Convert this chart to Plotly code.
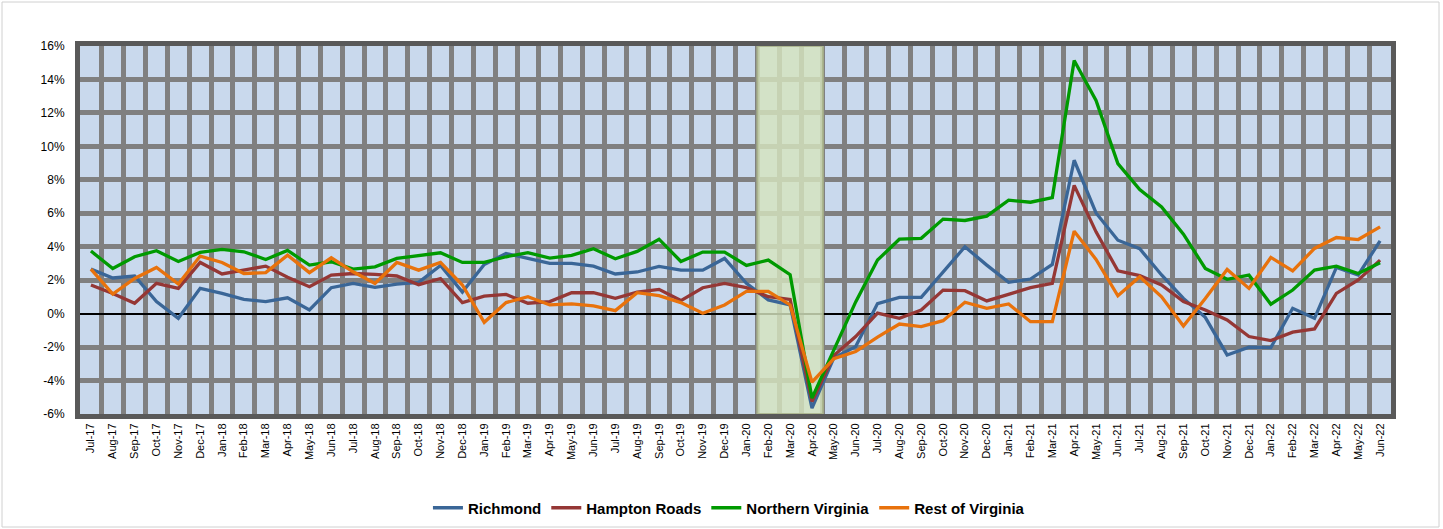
import plotly.graph_objects as go

months = ["Jul-17","Aug-17","Sep-17","Oct-17","Nov-17","Dec-17","Jan-18","Feb-18","Mar-18","Apr-18","May-18","Jun-18",
          "Jul-18","Aug-18","Sep-18","Oct-18","Nov-18","Dec-18","Jan-19","Feb-19","Mar-19","Apr-19","May-19","Jun-19",
          "Jul-19","Aug-19","Sep-19","Oct-19","Nov-19","Dec-19","Jan-20","Feb-20","Mar-20","Apr-20","May-20","Jun-20",
          "Jul-20","Aug-20","Sep-20","Oct-20","Nov-20","Dec-20","Jan-21","Feb-21","Mar-21","Apr-21","May-21","Jun-21",
          "Jul-21","Aug-21","Sep-21","Oct-21","Nov-21","Dec-21","Jan-22","Feb-22","Mar-22","Apr-22","May-22","Jun-22"]

richmond = [2.66,2.13,2.25,0.72,-0.28,1.51,1.21,0.85,0.72,0.95,0.22,1.55,
            1.81,1.57,1.77,1.87,2.88,1.29,2.94,3.6,3.3,3.0,3.0,2.84,
            2.37,2.49,2.82,2.6,2.6,3.3,1.81,0.82,0.52,-5.65,-2.65,-1.97,
            0.6,0.97,0.97,2.5,4.0,2.9,1.87,2.07,2.94,9.17,6.02,4.39,
            3.88,2.31,0.91,-0.22,-2.47,-2.0,-2.03,0.32,-0.28,2.76,2.31,4.35]

hampton_roads = [1.71,1.21,0.62,1.81,1.51,3.06,2.37,2.6,2.84,2.17,1.61,2.3,
                 2.4,2.35,2.25,1.73,2.1,0.66,1.05,1.15,0.62,0.72,1.25,1.25,
                 0.91,1.29,1.45,0.78,1.55,1.81,1.55,1.01,0.85,-5.25,-2.5,-1.37,
                 0.03,-0.28,0.22,1.41,1.37,0.76,1.17,1.55,1.81,7.67,4.89,2.56,
                 2.27,1.71,0.72,0.22,-0.38,-1.37,-1.61,-1.11,-0.91,1.21,2.01,3.2]

northern_virginia = [3.74,2.7,3.4,3.76,3.12,3.66,3.84,3.7,3.24,3.78,2.9,3.1,
                     2.66,2.8,3.3,3.46,3.64,3.06,3.06,3.4,3.64,3.32,3.48,3.88,
                     3.28,3.72,4.45,3.12,3.68,3.68,2.88,3.2,2.33,-5.05,-2.2,0.7,
                     3.2,4.45,4.5,5.65,5.57,5.83,6.78,6.66,6.94,15.13,12.74,8.97,
                     7.42,6.38,4.75,2.7,2.05,2.3,0.56,1.41,2.6,2.84,2.4,3.04]

rest_of_virginia = [2.66,1.17,2.1,2.76,1.77,3.44,3.06,2.4,2.45,3.5,2.45,3.34,
                    2.5,1.8,3.06,2.6,3.06,1.71,-0.52,0.66,1.01,0.52,0.58,0.46,
                    0.18,1.25,1.07,0.66,0.02,0.52,1.33,1.33,0.52,-4.1,-2.7,-2.27,
                    -1.4,-0.62,-0.78,-0.42,0.68,0.32,0.58,-0.48,-0.48,4.93,3.24,1.07,
                    2.21,1.01,-0.74,0.91,2.64,1.51,3.36,2.56,3.9,4.55,4.43,5.19]

series_names = ["Richmond", "Hampton Roads", "Northern Virginia", "Rest of Virginia"]
series_values = [richmond, hampton_roads, northern_virginia, rest_of_virginia]
series_colors = ["#3a6697", "#953735", "#009a00", "#e8720c"]

recession_start, recession_end = "Feb-20", "Apr-20"

y_ticks = list(range(-6, 17, 2))

x = list(range(len(months)))

FONT = "Liberation Sans, Arial, sans-serif"

fig = go.Figure()
for name, vals, col in zip(series_names, series_values, series_colors):
    fig.add_trace(go.Scatter(x=x, y=vals, mode="lines", name=name,
                             line=dict(color=col, width=3.3)))

i0 = months.index(recession_start) - 0.5
i1 = months.index(recession_end) + 0.5
fig.add_shape(type="rect", xref="x", yref="y", x0=i0, x1=i1, y0=-6, y1=16,
              fillcolor="rgba(214,228,190,0.82)", line=dict(color="rgba(170,180,140,0.9)", width=2),
              layer="between")

# outer chart frame
W, H = 1443, 529
L, R, T, B = 80, 52, 46, 115
pw, ph = W - L - R, H - T - B
def px2x(p): return (p - L) / pw
def py2y(p): return (H - B - p) / ph
fig.add_shape(type="rect", xref="paper", yref="paper",
              x0=px2x(2), x1=px2x(1439), y0=py2y(527), y1=py2y(2),
              line=dict(color="#d0d0d0", width=1), fillcolor="rgba(0,0,0,0)", layer="below")

fig.update_layout(
    width=W, height=H,
    margin=dict(l=L, r=R, t=T, b=B, autoexpand=False),
    paper_bgcolor="white",
    plot_bgcolor="#c9d9ed",
    font=dict(family=FONT, size=12, color="black"),
    showlegend=True,
    legend=dict(orientation="h", x=0.495, xanchor="center", y=py2y(508), yanchor="middle",
                font=dict(family=FONT, size=15, color="black", weight="bold"),
                itemwidth=30, traceorder="normal", bgcolor="rgba(0,0,0,0)"),
)

fig.update_xaxes(
    range=[-0.5, len(months) - 0.5], automargin=False,
    tickmode="array", tickvals=x, ticktext=months, tickangle=-90,
    tickfont=dict(family=FONT, size=11, color="black"),
    showgrid=False, zeroline=False,
    ticks="", showline=True, linecolor="#595959", linewidth=5, mirror=True,
    minor=dict(tickmode="array", tickvals=[i + 0.5 for i in x[:-1]],
               showgrid=True, gridcolor="#808080", gridwidth=5, ticks=""),
)
fig.update_yaxes(
    range=[-6, 16], automargin=False,
    tickmode="array", tickvals=y_ticks, ticktext=[f"{v}%" for v in y_ticks],
    tickfont=dict(family=FONT, size=12, color="black"),
    showgrid=True, gridcolor="#808080", gridwidth=5,
    zeroline=True, zerolinecolor="black", zerolinewidth=2,
    showline=True, linecolor="#595959", linewidth=5, mirror=True, ticks="",
    ticklabelstandoff=8,
)

fig.write_html("out.html", config={"displayModeBar": False},
               post_script="document.body.style.margin='0px';document.body.style.overflow='hidden';")
